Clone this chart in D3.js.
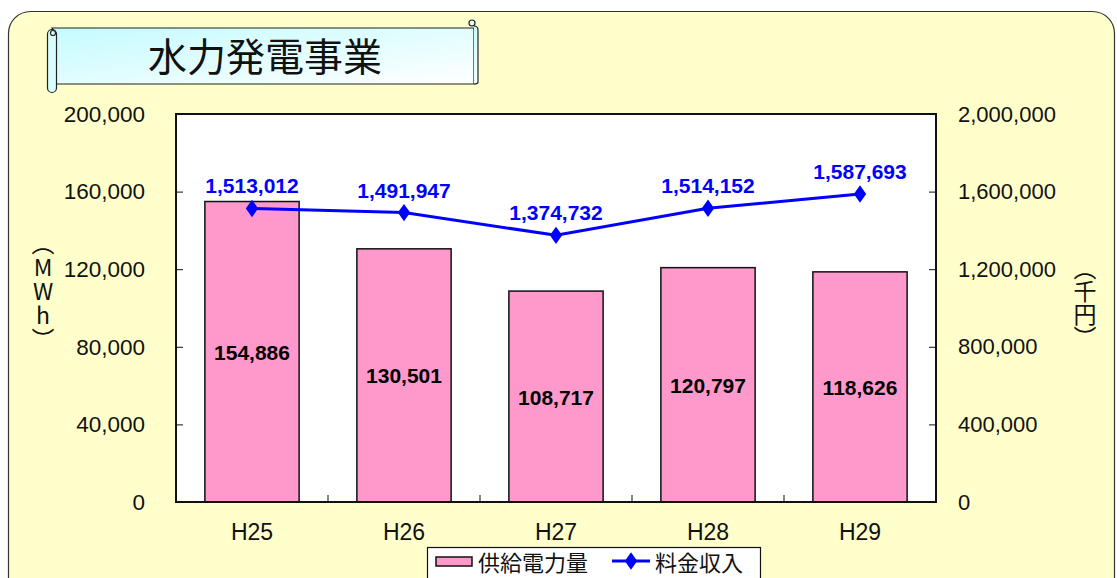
<!DOCTYPE html>
<html>
<head>
<meta charset="utf-8">
<script src="https://cdn.jsdelivr.net/npm/d3@7"></script>
<style>
  body { margin: 0; background: #fff; }
  svg { display: block; }
</style>
</head>
<body>
<div id="chart"></div>
<script>
const years = ['H25', 'H26', 'H27', 'H28', 'H29'];
const power = [154886, 130501, 108717, 120797, 118626];     // 供給電力量 (MWh)
const revenue = [1513012, 1491947, 1374732, 1514152, 1587693]; // 料金収入 (千円)
const leftTicks = [0, 40000, 80000, 120000, 160000, 200000];
const rightTicks = [0, 400000, 800000, 1200000, 1600000, 2000000];

const W = 1117, H = 578;
const margin = {top: 114, right: 181, bottom: 76, left: 176};
const numFont = '"Liberation Sans", Arial, sans-serif';
const jpFont = '"Noto Sans CJK JP", sans-serif';
const fmt = d3.format(',');

const svg = d3.select('#chart').append('svg')
  .attr('width', W)
  .attr('height', H);

// background panel
svg.append('rect')
  .attr('x', 8.5).attr('y', 11.5)
  .attr('width', 1106).attr('height', 590)
  .attr('rx', 22)
  .attr('fill', '#ffffcc')
  .attr('stroke', '#333')
  .attr('stroke-width', 1.2);

// title scroll banner
const defs = svg.append('defs');
const grad = defs.append('linearGradient')
  .attr('id', 'bannerGrad')
  .attr('x1', '0%').attr('y1', '0%').attr('x2', '100%').attr('y2', '100%');
grad.append('stop').attr('offset', '0%').attr('stop-color', '#c4fbff');
grad.append('stop').attr('offset', '100%').attr('stop-color', '#ffffff');

const banner = svg.append('g');
banner.append('path')
  .attr('d', 'M52,28 L474,28 L474,84 L56,84 L56,36 Z')
  .attr('fill', 'url(#bannerGrad)')
  .attr('stroke', '#222').attr('stroke-width', 1.2);
banner.append('path')
  .attr('d', 'M474,26 Q478,26 478,30 L478,82 Q478,84 474,84')
  .attr('fill', 'url(#bannerGrad)')
  .attr('stroke', '#222').attr('stroke-width', 1.2);
banner.append('circle')
  .attr('cx', 472).attr('cy', 23).attr('r', 3)
  .attr('fill', '#e8feff').attr('stroke', '#222').attr('stroke-width', 1.2);
banner.append('rect')
  .attr('x', 47.5).attr('y', 29.5).attr('width', 9).attr('height', 63).attr('rx', 4.5)
  .attr('fill', '#d8fdff').attr('stroke', '#222').attr('stroke-width', 1.2);
banner.append('circle')
  .attr('cx', 53).attr('cy', 33).attr('r', 2.5)
  .attr('fill', 'none').attr('stroke', '#222').attr('stroke-width', 1.2);
banner.append('text')
  .attr('x', 265).attr('y', 71)
  .attr('text-anchor', 'middle')
  .attr('font-family', jpFont)
  .attr('font-size', 39)
  .attr('fill', '#111')
  .text('水力発電事業');

const iw = W - margin.left - margin.right;
const ih = H - margin.top - margin.bottom;

const x = d3.scaleBand()
  .domain(years)
  .range([margin.left, margin.left + iw])
  .paddingInner(0.38)
  .paddingOuter(0.19);

const yL = d3.scaleLinear()
  .domain([0, 200000])
  .range([margin.top + ih, margin.top]);

const yR = d3.scaleLinear()
  .domain([0, 2000000])
  .range([margin.top + ih, margin.top]);

// plot area
svg.append('rect')
  .attr('x', margin.left).attr('y', margin.top)
  .attr('width', iw).attr('height', ih)
  .attr('fill', '#fff');

// bars
svg.selectAll('rect.bar')
  .data(years)
  .enter()
  .append('rect')
  .attr('class', 'bar')
  .attr('x', d => x(d))
  .attr('y', (d, i) => yL(power[i]))
  .attr('width', x.bandwidth())
  .attr('height', (d, i) => yL(0) - yL(power[i]))
  .attr('fill', '#ff99cc')
  .attr('stroke', '#111')
  .attr('stroke-width', 1.5);

// plot border
svg.append('rect')
  .attr('x', margin.left).attr('y', margin.top)
  .attr('width', iw).attr('height', ih)
  .attr('fill', 'none')
  .attr('stroke', '#111')
  .attr('stroke-width', 2);

// left axis
const gL = svg.append('g')
  .attr('transform', `translate(${margin.left},0)`)
  .call(d3.axisLeft(yL).tickValues(leftTicks).tickFormat(fmt).tickSize(-7).tickPadding(31));
gL.select('.domain').remove();
gL.selectAll('line').attr('stroke', '#111');
gL.selectAll('text')
  .attr('font-family', numFont).attr('font-size', 22.5).attr('fill', '#111');

// right axis
const gR = svg.append('g')
  .attr('transform', `translate(${margin.left + iw},0)`)
  .call(d3.axisRight(yR).tickValues(rightTicks).tickFormat(fmt).tickSize(-7).tickPadding(22));
gR.select('.domain').remove();
gR.selectAll('line').attr('stroke', '#111');
gR.selectAll('text')
  .attr('font-family', numFont).attr('font-size', 22).attr('fill', '#111');

// bottom axis: ticks at band boundaries, pointing up
const step = x.step();
const gB = svg.append('g')
  .attr('transform', `translate(0,${margin.top + ih})`)
  .call(d3.axisBottom(x).tickSize(0).tickPadding(22));
gB.select('.domain').remove();
gB.selectAll('text')
  .attr('font-family', numFont).attr('font-size', 23).attr('fill', '#111');
svg.append('g')
  .selectAll('line')
  .data(years.slice(1))
  .enter()
  .append('line')
  .attr('x1', d => x(d) - step * x.paddingInner() / 2)
  .attr('x2', d => x(d) - step * x.paddingInner() / 2)
  .attr('y1', margin.top + ih)
  .attr('y2', margin.top + ih - 7)
  .attr('stroke', '#111');

// bar value labels
svg.selectAll('text.barLabel')
  .data(years)
  .enter()
  .append('text')
  .attr('class', 'barLabel')
  .attr('x', d => x(d) + x.bandwidth() / 2)
  .attr('y', (d, i) => (yL(power[i]) + yL(0)) / 2 + 8)
  .attr('text-anchor', 'middle')
  .attr('font-family', numFont)
  .attr('font-weight', 'bold')
  .attr('font-size', 21)
  .attr('fill', '#000')
  .text((d, i) => fmt(power[i]));

// revenue line
const cx = d => x(d) + x.bandwidth() / 2;
const line = d3.line()
  .x((d, i) => cx(years[i]))
  .y(d => yR(d));

svg.append('path')
  .datum(revenue)
  .attr('d', line)
  .attr('fill', 'none')
  .attr('stroke', '#0000ff')
  .attr('stroke-width', 3);

svg.selectAll('path.marker')
  .data(revenue)
  .enter()
  .append('path')
  .attr('class', 'marker')
  .attr('d', d3.symbol().type(d3.symbolDiamond).size(120))
  .attr('transform', (d, i) => `translate(${cx(years[i])},${yR(d)}) scale(1.05,0.85)`)
  .attr('fill', '#0000ff');

svg.selectAll('text.lineLabel')
  .data(revenue)
  .enter()
  .append('text')
  .attr('class', 'lineLabel')
  .attr('x', (d, i) => cx(years[i]))
  .attr('y', d => yR(d) - 15)
  .attr('text-anchor', 'middle')
  .attr('font-family', numFont)
  .attr('font-weight', 'bold')
  .attr('font-size', 21)
  .attr('fill', '#0000ff')
  .text(d => fmt(d));

// axis titles (vertical writing)
svg.append('text')
  .attr('x', 43).attr('y', 232)
  .attr('font-family', jpFont)
  .attr('font-size', 23)
  .attr('fill', '#111')
  .style('writing-mode', 'vertical-rl')
  .style('text-orientation', 'upright')
  .style('letter-spacing', '1px')
  .text('（MWh）');

svg.append('text')
  .attr('x', 1085).attr('y', 257)
  .attr('font-family', jpFont)
  .attr('font-size', 23)
  .attr('fill', '#111')
  .style('writing-mode', 'vertical-rl')
  .style('text-orientation', 'upright')
  .text('（千円）');

// legend
const lg = svg.append('g');
lg.append('rect')
  .attr('x', 427.5).attr('y', 547.5)
  .attr('width', 333).attr('height', 34)
  .attr('fill', '#fff')
  .attr('stroke', '#111').attr('stroke-width', 1.2);
lg.append('rect')
  .attr('x', 436).attr('y', 557)
  .attr('width', 36).attr('height', 9)
  .attr('fill', '#ff99cc')
  .attr('stroke', '#111').attr('stroke-width', 1.5);
lg.append('text')
  .attr('x', 478).attr('y', 571)
  .attr('font-family', jpFont).attr('font-size', 22).attr('fill', '#111')
  .text('供給電力量');
lg.append('line')
  .attr('x1', 612).attr('x2', 650).attr('y1', 561).attr('y2', 561)
  .attr('stroke', '#0000ff').attr('stroke-width', 3);
lg.append('path')
  .attr('d', d3.symbol().type(d3.symbolDiamond).size(120))
  .attr('transform', 'translate(631,561) scale(1.05,0.85)')
  .attr('fill', '#0000ff');
lg.append('text')
  .attr('x', 655).attr('y', 571)
  .attr('font-family', jpFont).attr('font-size', 22).attr('fill', '#111')
  .text('料金収入');
</script>
</body>
</html>
